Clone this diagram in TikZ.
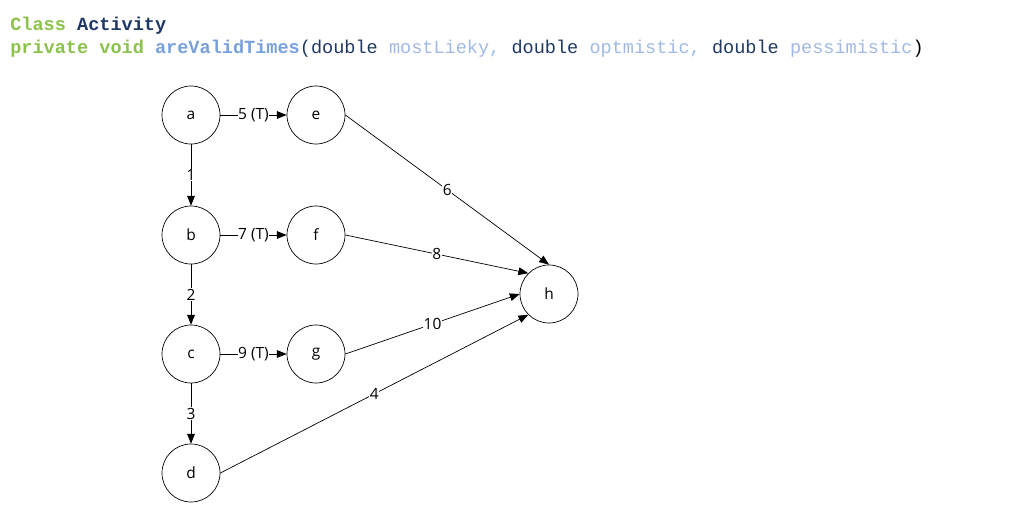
\documentclass[tikz,border=0pt]{standalone}
\usepackage{fontspec}
\usepackage{xcolor}
\setmainfont{Open Sans}
\newfontfamily\codefont{Liberation Mono}
\usetikzlibrary{arrows.meta}
\definecolor{kwgreen}{RGB}{139,195,74}
\definecolor{typeblue}{RGB}{31,56,100}
\definecolor{namblue}{RGB}{120,160,220}
\definecolor{parblue}{RGB}{160,185,230}

\begin{document}
\begin{tikzpicture}[
    x=0.025cm, y=-0.025cm,
    >={Triangle[length=7pt,width=5.5pt]},
    state/.style={circle,draw,line width=.5pt,minimum size=58*0.025cm,
        inner sep=0pt,font={\fontsize{11pt}{13pt}\selectfont}},
    edge/.style={->,line width=.5pt},
    weight/.style={fill=white,inner sep=0.5pt,font={\fontsize{11pt}{13pt}\selectfont}},
    code/.style={anchor=base west,inner sep=0pt,
        font={\codefont\fontsize{13.2pt}{15pt}\selectfont}},
    ]

    \useasboundingbox (0,0) rectangle (1012,505);

    % signature
    \node[code] (cls) at (10,31) {\textbf{\color{kwgreen}Class} \textbf{\color{typeblue}Activity}};
    \node[code] (sig) at (10,54) {\textbf{\color{kwgreen}private void}
        \textbf{\color{namblue}areValidTimes}\color{typeblue}(double
        \color{parblue}mostLieky, \color{typeblue}double
        \color{parblue}optmistic, \color{typeblue}double
        \color{parblue}pessimistic\color{black})};

    % activities
    \node[state] (a) at (191,115) {a};
    \node[state] (b) at (191,235) {b};
    \node[state] (c) at (191,354) {c};
    \node[state] (d) at (191,473) {d};
    \node[state] (e) at (316,115) {e};
    \node[state] (f) at (316,235) {f};
    \node[state] (g) at (316,354) {g};
    \node[state] (h) at (549,294) {h};

    % chain
    \draw[edge] (a) -- node[weight] (w1) {1} (b);
    \draw[edge] (b) -- node[weight] (w2) {2} (c);
    \draw[edge] (c) -- node[weight] (w3) {3} (d);

    % branches
    \draw[edge] (a) -- node[weight] (w5) {5 (T)} (e);
    \draw[edge] (b) -- node[weight] (w7) {7 (T)} (f);
    \draw[edge] (c) -- node[weight] (w9) {9 (T)} (g);

    % into h
    \draw[edge] (e.east) -- node[weight] (w6) {6} (h.north);
    \draw[edge] (f.east) -- node[weight] (w8) {8} (h.135);
    \draw[edge] (g.east) -- node[weight] (w10) {10} (h.west);
    \draw[edge] (d.east) -- node[weight] (w4) {4} (h.225);

\end{tikzpicture}
\end{document}
